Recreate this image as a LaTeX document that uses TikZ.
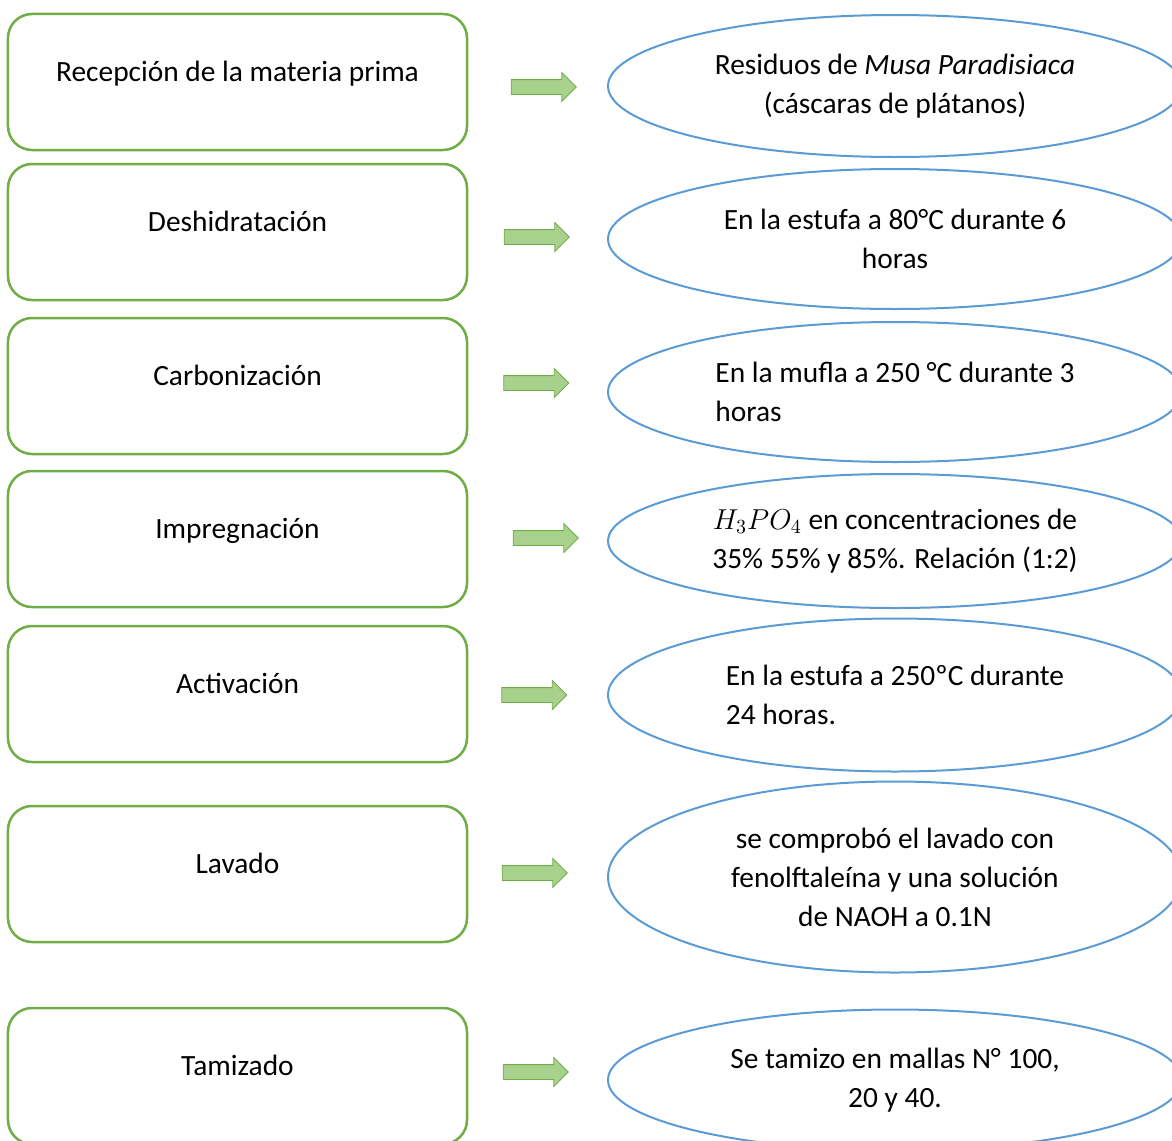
\documentclass[tikz,border=0pt]{standalone}
\usepackage{fontspec}
\setmainfont{Carlito}
\usetikzlibrary{shapes.geometric,shapes.arrows}

\definecolor{stepgreen}{RGB}{112,173,71}
\definecolor{notesblue}{RGB}{91,155,213}
\definecolor{arrowfill}{RGB}{169,209,142}

\begin{document}
\begin{tikzpicture}[
    node distance=76.5pt,
    font=\fontsize{14.7pt}{19.5pt}\selectfont,
    stepbox/.style={rectangle, draw=stepgreen, line width=1.25pt, rounded corners=12pt, minimum width=229.5pt, minimum height=68pt, align=center, text height=11pt, text depth=12pt},
    note/.style={ellipse, draw=notesblue, line width=1pt, minimum width=287pt, minimum height=70pt, inner sep=0pt, align=center},
    flow/.style={single arrow, draw=stepgreen, line width=0.4pt, fill=arrowfill, minimum height=32.5pt, text height=3.5pt, text depth=3.5pt, inner sep=0pt, single arrow head extend=3.5pt}
]
    % Page frame
    \path[use as bounding box, clip] (-118.75pt,41pt) rectangle (467.25pt,-529pt);

    % Process steps
    \node[stepbox] (recepcion) {Recepción de la materia prima};
    \node[stepbox, below of=recepcion, yshift=1.5pt] (deshidratacion) {Deshidratación};
    \node[stepbox, below of=deshidratacion, yshift=-0.5pt] (carbonizacion) {Carbonización};
    \node[stepbox, below of=carbonizacion] (impregnacion) {Impregnación};
    \node[stepbox, below of=impregnacion, yshift=-1pt] (activacion) {Activación};
    \node[stepbox, below of=activacion, yshift=-13.5pt] (lavado) {Lavado};
    \node[stepbox, below of=lavado, yshift=-24.5pt] (tamizado) {Tamizado};

    % Conditions of each step
    \node[note, right of=recepcion, xshift=252.25pt, yshift=-2pt, minimum height=71pt] (residuos) {Residuos de \textit{Musa Paradisiaca}\\(cáscaras de plátanos)};
    \node[note, right of=deshidratacion, xshift=252.25pt, yshift=-3.5pt] (estufa) {En la estufa a 80°C durante 6\\horas};
    \node[note, right of=carbonizacion, xshift=252.25pt, yshift=-3pt, align=left] (mufla) {En la mufla a 250 °C durante 3\\horas};
    \node[note, right of=impregnacion, xshift=252.25pt, yshift=-1pt, minimum height=67pt] (acido) {$H_3PO_4$ en concentraciones de\\35\% 55\% y 85\%. Relación (1:2)};
    \node[note, right of=activacion, xshift=252.25pt, yshift=-0.5pt, minimum height=76.5pt, align=left] (horno) {En la estufa a 250ºC durante\\24 horas.};
    \node[note, right of=lavado, xshift=252.25pt, yshift=-1.5pt, minimum height=95.5pt] (fenol) {se comprobó el lavado con\\fenolftaleína y una solución\\de NAOH a 0.1N};
    \node[note, right of=tamizado, xshift=252.25pt, yshift=-2pt, minimum height=70.5pt] (mallas) {Se tamizo en mallas N° 100,\\20 y 40.};

    % Block arrows between them
    \node[flow, right of=recepcion, xshift=74.75pt, yshift=-2.5pt] (a1) {};
    \node[flow, right of=deshidratacion, xshift=71.25pt, yshift=-2.5pt] (a2) {};
    \node[flow, right of=carbonizacion, xshift=71pt, yshift=1.5pt] (a3) {};
    \node[flow, right of=impregnacion, xshift=75.75pt, yshift=0.5pt] (a4) {};
    \node[flow, right of=activacion, xshift=70pt, yshift=-0.5pt] (a5) {};
    \node[flow, right of=lavado, xshift=70.25pt, yshift=0.5pt] (a6) {};
    \node[flow, right of=tamizado, xshift=70.75pt, yshift=2pt] (a7) {};

\end{tikzpicture}
\end{document}
